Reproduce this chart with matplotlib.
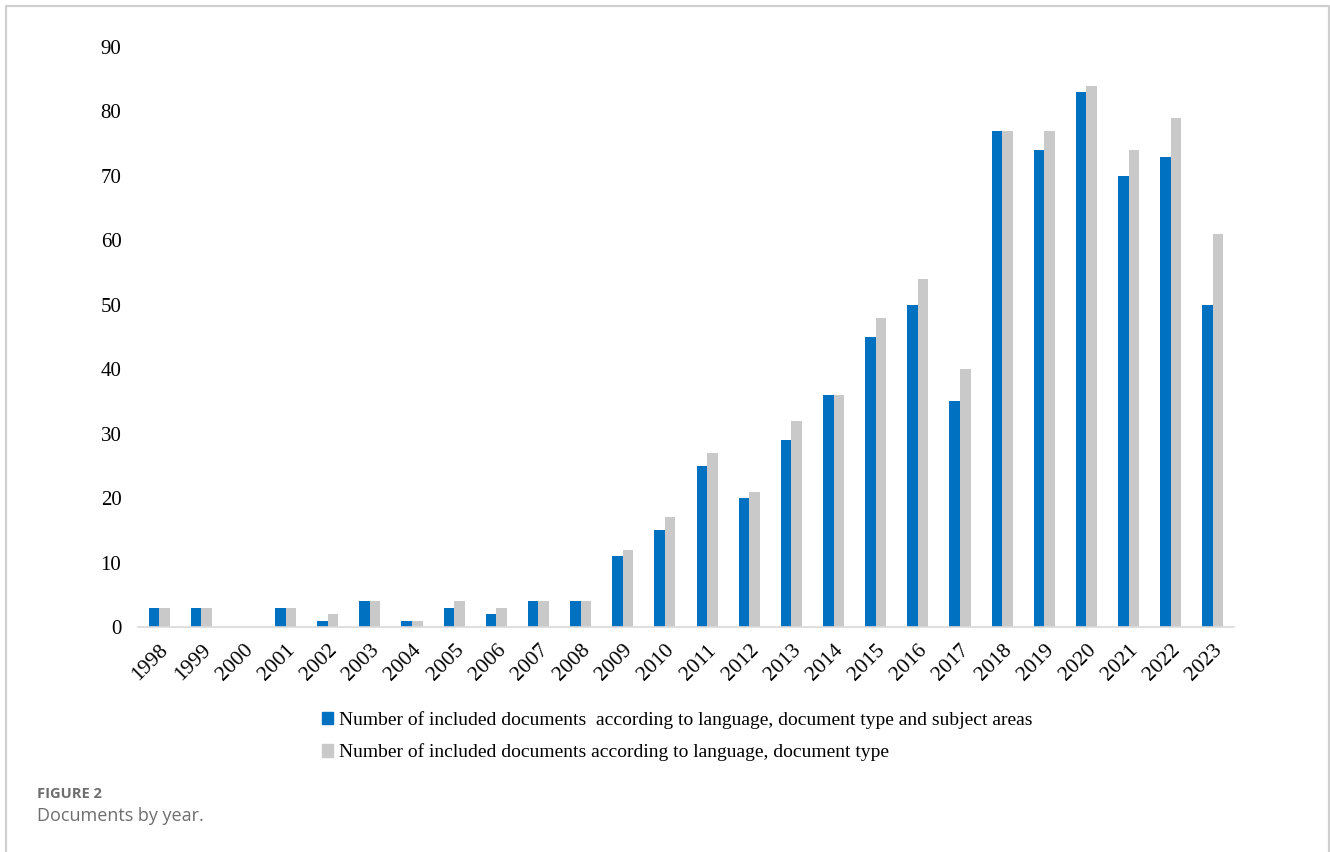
import matplotlib
matplotlib.use("Agg")
import matplotlib.pyplot as plt
from matplotlib.lines import Line2D
from matplotlib.patches import Patch
import numpy as np

years = [str(y) for y in range(1998, 2024)]
subject_areas = [3, 3, 0, 3, 1, 4, 1, 3, 2, 4, 4, 11, 15, 25, 20, 29, 36, 45, 50, 35, 77, 74, 83, 70, 73, 50]
doc_type = [3, 3, 0, 3, 2, 4, 1, 4, 3, 4, 4, 12, 17, 27, 21, 32, 36, 48, 54, 40, 77, 77, 84, 74, 79, 61]

label_a = "Number of included documents  according to language, document type and subject areas"
label_b = "Number of included documents according to language, document type"

blue = "#0070C0"
grey = "#C9C9C9"

fig = plt.figure(figsize=(13.3, 8.52), dpi=100)
ax = fig.add_axes([0.1038, 0.2641, 0.8240, 0.6807])

x = np.arange(len(years))
w = 0.25
ax.bar(x - w / 2, subject_areas, w, color=blue, label=label_a)
ax.bar(x + w / 2, doc_type, w, color=grey, label=label_b)

ax.set_xlim(-0.5, len(years) - 0.5)
ax.set_ylim(0, 90)
ax.set_yticks(range(0, 91, 10))
ax.set_xticks(x)
ax.set_xticklabels(years, rotation=45, ha="right", rotation_mode="anchor",
                   family="Liberation Serif", fontsize=15.5)
for lab in ax.get_yticklabels():
    lab.set_family("Liberation Serif")
    lab.set_fontsize(15)
ax.tick_params(axis="y", length=0, pad=12)
ax.tick_params(axis="x", length=0, pad=10)
for s in ["top", "right", "left"]:
    ax.spines[s].set_visible(False)
ax.spines["bottom"].set_color("#D9D9D9")
ax.spines["bottom"].set_linewidth(1.2)

handles = [Patch(color=blue), Patch(color=grey)]
fig.legend(handles, [label_a, label_b], loc="upper left", bbox_to_anchor=(0.229, 0.186),
           frameon=False, handlelength=0.55, handleheight=0.6, handletextpad=0.3,
           labelspacing=0.75, prop={"family": "Liberation Serif", "size": 14})

# figure frame
fig.add_artist(Line2D([6 / 1330, 6 / 1330, 1329 / 1330, 1329 / 1330],
                      [0, 1 - 6 / 852, 1 - 6 / 852, 0],
                      transform=fig.transFigure, color="#CFCFCF", lw=1.6))

fig.text(37 / 1330, 1 - 794 / 852, "FIGURE 2", family="Open Sans", weight="bold",
         fontsize=10.5, color="#6E6E6E", va="center")
fig.text(37 / 1330, 1 - 816 / 852, "Documents by year.", family="Open Sans",
         fontsize=13, color="#6E6E6E", va="center")

fig.savefig("out.png", dpi=100)
